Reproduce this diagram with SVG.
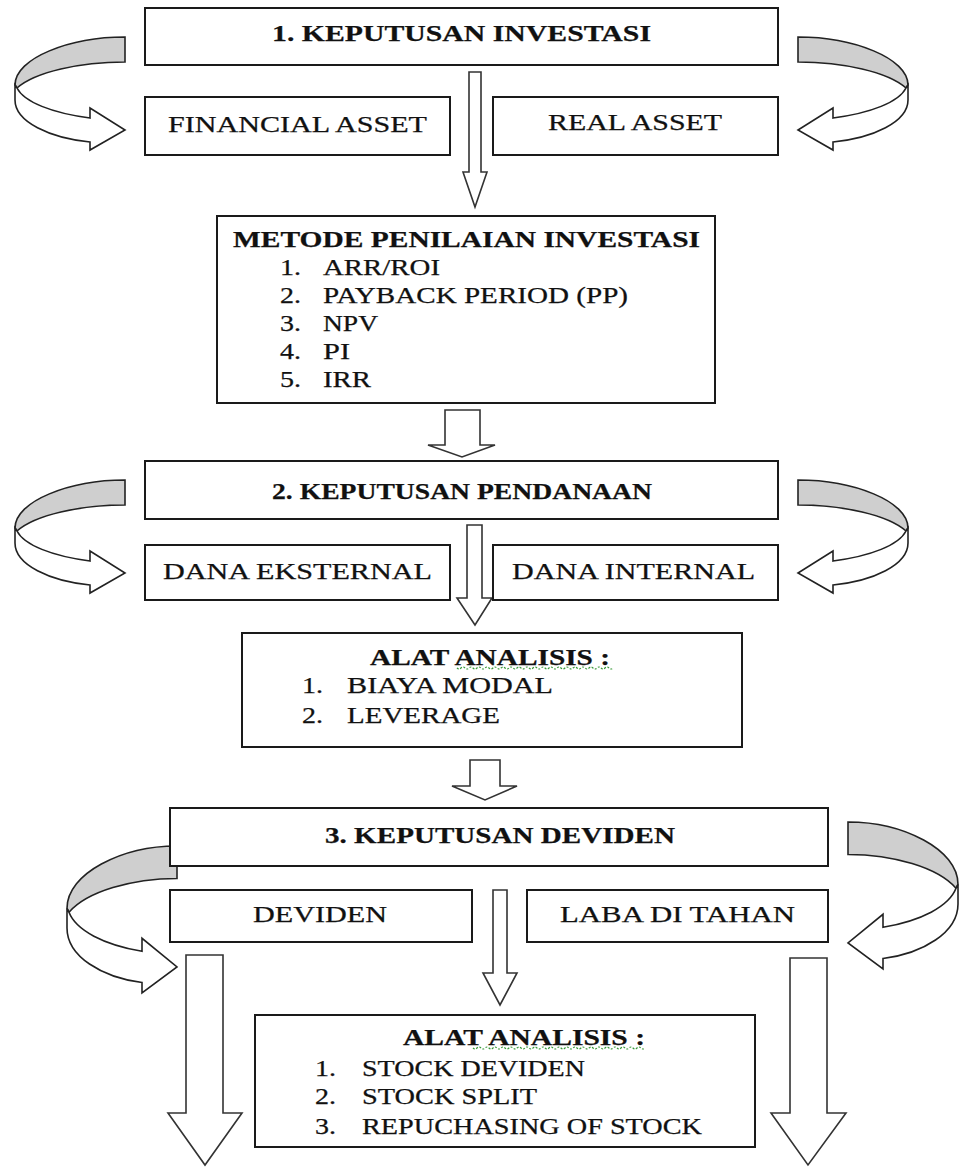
<svg xmlns="http://www.w3.org/2000/svg" xmlns:xlink="http://www.w3.org/1999/xlink" width="960" height="1167" viewBox="0 0 960 1167">
<style>
.box{fill:#fff;stroke:#1a1a1a;stroke-width:2}
.t{font-family:"Liberation Serif","Times New Roman",serif;font-size:23px;fill:#111;stroke:#111;stroke-width:0.25}
.b{font-weight:bold;font-size:23px}
.arr{fill:#fff;stroke:#333;stroke-width:1.6;stroke-linejoin:miter}
.band{fill:#cfcfcf;stroke:#222;stroke-width:1.6}
.front{fill:#fff;stroke:#222;stroke-width:1.6}
.sq{fill:none;stroke:#3a9a3a;stroke-width:1.2;stroke-dasharray:2 1.5}
</style>
<defs>
<g id="curv">
<path class="band" vector-effect="non-scaling-stroke" d="M125,37 C70,37 15,58 15,85 L17,88 C35,72 80,62 125,62 Z"/>
<path class="front" vector-effect="non-scaling-stroke" d="M15,85 L15,100 C15,122 50,138 90,142 L90,150 L125,130 L90,108 L90,118 C52,113 24,102 17,88 Z"/>
</g>
</defs>
<rect width="960" height="1167" fill="#fff"/>
<g id="connectors">
<use xlink:href="#curv"/>
<use xlink:href="#curv" transform="translate(923,0) scale(-1,1)"/>
<use xlink:href="#curv" transform="translate(0,443)"/>
<use xlink:href="#curv" transform="translate(923,443) scale(-1,1)"/>
<use xlink:href="#curv" transform="translate(52,846) scale(1,1.3) translate(0,-37)"/>
<use xlink:href="#curv" transform="translate(973,822) scale(-1,1.3) translate(0,-37)"/>
<path class="arr" d="M469,72 H481 V172 H487 L475,207 L463,172 H469 Z"/>
<path class="arr" d="M445,410 H480 V445 H495 L462,457 L428,445 H445 Z"/>
<path class="arr" d="M467,525 H482 V598 H492 L475,625 L457,598 H467 Z"/>
<path class="arr" d="M470,760 H500 V786 H517 L485,800 L452,786 H470 Z"/>
<path class="arr" d="M493,890 H507 V973 H517 L500,1005 L483,973 H493 Z"/>
<path class="arr" d="M186,955 H223 V1113 H242 L205,1165 L168,1113 H186 Z"/>
<path class="arr" d="M790,958 H827 V1113 H846 L808,1165 L771,1113 H790 Z"/>
</g>
<g id="keputusan-investasi"><rect class="box" x="145" y="8" width="633" height="57"/><text class="t b" x="272" y="41" textLength="379" lengthAdjust="spacingAndGlyphs">1. KEPUTUSAN INVESTASI</text></g>
<g id="financial-asset"><rect class="box" x="145" y="97" width="305" height="58"/><text class="t" x="168" y="132" textLength="259" lengthAdjust="spacingAndGlyphs">FINANCIAL ASSET</text></g>
<g id="real-asset"><rect class="box" x="493" y="97" width="285" height="58"/><text class="t" x="548" y="130" textLength="174" lengthAdjust="spacingAndGlyphs">REAL ASSET</text></g>
<g id="metode"><rect class="box" x="217" y="216" width="498" height="187"/>
<text class="t b" x="233" y="247" textLength="467" lengthAdjust="spacingAndGlyphs">METODE PENILAIAN INVESTASI</text>
<text class="t" x="280" y="275" textLength="21" lengthAdjust="spacingAndGlyphs">1.</text><text class="t" x="323" y="275" textLength="117" lengthAdjust="spacingAndGlyphs">ARR/ROI</text>
<text class="t" x="280" y="303" textLength="21" lengthAdjust="spacingAndGlyphs">2.</text><text class="t" x="323" y="303" textLength="305" lengthAdjust="spacingAndGlyphs">PAYBACK PERIOD (PP)</text>
<text class="t" x="280" y="331" textLength="21" lengthAdjust="spacingAndGlyphs">3.</text><text class="t" x="323" y="331" textLength="55" lengthAdjust="spacingAndGlyphs">NPV</text>
<text class="t" x="280" y="359" textLength="21" lengthAdjust="spacingAndGlyphs">4.</text><text class="t" x="323" y="359" textLength="27" lengthAdjust="spacingAndGlyphs">PI</text>
<text class="t" x="280" y="387" textLength="21" lengthAdjust="spacingAndGlyphs">5.</text><text class="t" x="323" y="387" textLength="48" lengthAdjust="spacingAndGlyphs">IRR</text>
</g>
<g id="keputusan-pendanaan"><rect class="box" x="145" y="461" width="633" height="58"/><text class="t b" x="272" y="499" textLength="380" lengthAdjust="spacingAndGlyphs">2. KEPUTUSAN PENDANAAN</text></g>
<g id="dana-eksternal"><rect class="box" x="145" y="545" width="305" height="55"/><text class="t" x="163" y="579" textLength="269" lengthAdjust="spacingAndGlyphs">DANA EKSTERNAL</text></g>
<g id="dana-internal"><rect class="box" x="493" y="545" width="285" height="55"/><text class="t" x="512" y="579" textLength="243" lengthAdjust="spacingAndGlyphs">DANA INTERNAL</text></g>
<g id="alat-analisis-1"><rect class="box" x="242" y="633" width="500" height="114"/>
<text class="t b" x="370" y="665" textLength="240" lengthAdjust="spacingAndGlyphs">ALAT ANALISIS :</text>
<path class="sq" d="M457,668 q2,2 4,0 t4,0 t4,0 t4,0 t4,0 t4,0 t4,0 t4,0 t4,0 t4,0 t4,0 t4,0 t4,0 t4,0 t4,0 t4,0 t4,0 t4,0 t4,0 t4,0 t4,0 t4,0 t4,0 t4,0 t4,0 t4,0 t4,0 t4,0 t4,0 t4,0 t4,0 t4,0 t4,0 t4,0 t4,0 t4,0 t4,0 t4,0 t4,0"/>
<text class="t" x="302" y="693" textLength="21" lengthAdjust="spacingAndGlyphs">1.</text><text class="t" x="347" y="693" textLength="206" lengthAdjust="spacingAndGlyphs">BIAYA MODAL</text>
<text class="t" x="302" y="723" textLength="21" lengthAdjust="spacingAndGlyphs">2.</text><text class="t" x="347" y="723" textLength="153" lengthAdjust="spacingAndGlyphs">LEVERAGE</text>
</g>
<g id="keputusan-deviden"><rect class="box" x="170" y="808" width="658" height="58"/><text class="t b" x="325" y="843" textLength="350" lengthAdjust="spacingAndGlyphs">3. KEPUTUSAN DEVIDEN</text></g>
<g id="deviden"><rect class="box" x="170" y="890" width="302" height="52"/><text class="t" x="253" y="922" textLength="134" lengthAdjust="spacingAndGlyphs">DEVIDEN</text></g>
<g id="laba-di-tahan"><rect class="box" x="527" y="890" width="301" height="52"/><text class="t" x="560" y="922" textLength="235" lengthAdjust="spacingAndGlyphs">LABA DI TAHAN</text></g>
<g id="alat-analisis-2"><rect class="box" x="255" y="1015" width="500" height="132"/>
<text class="t b" x="403" y="1045" textLength="242" lengthAdjust="spacingAndGlyphs">ALAT ANALISIS :</text>
<path class="sq" d="M473,1048 q2,2 4,0 t4,0 t4,0 t4,0 t4,0 t4,0 t4,0 t4,0 t4,0 t4,0 t4,0 t4,0 t4,0 t4,0 t4,0 t4,0 t4,0 t4,0 t4,0 t4,0 t4,0 t4,0 t4,0 t4,0 t4,0 t4,0 t4,0 t4,0 t4,0 t4,0 t4,0 t4,0 t4,0 t4,0 t4,0 t4,0 t4,0 t4,0 t4,0 t4,0 t4,0 t4,0 t4,0"/>
<text class="t" x="315" y="1076" textLength="21" lengthAdjust="spacingAndGlyphs">1.</text><text class="t" x="362" y="1076" textLength="223" lengthAdjust="spacingAndGlyphs">STOCK DEVIDEN</text>
<text class="t" x="315" y="1104" textLength="21" lengthAdjust="spacingAndGlyphs">2.</text><text class="t" x="362" y="1104" textLength="175" lengthAdjust="spacingAndGlyphs">STOCK SPLIT</text>
<text class="t" x="315" y="1134" textLength="21" lengthAdjust="spacingAndGlyphs">3.</text><text class="t" x="362" y="1134" textLength="340" lengthAdjust="spacingAndGlyphs">REPUCHASING OF STOCK</text>
</g>
</svg>
